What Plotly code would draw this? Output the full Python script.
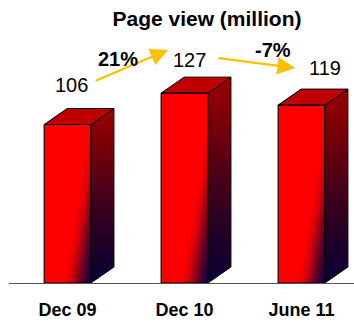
import plotly.graph_objects as go

# ---- data ----
categories = ["Dec 09", "Dec 10", "June 11"]
page_views = [106, 127, 119]
growth_labels = ["21%", "-7%"]

# ---- layout constants ----
W, H = 354, 328
M_L, M_R, M_T, M_B = 9, 0, 0, 45
X_RANGE = [-0.5, 2.449]
Y_RANGE = [0, 189.3]
PX_X = (W - M_L - M_R) / (X_RANGE[1] - X_RANGE[0])
PX_Y = (H - M_T - M_B) / (Y_RANGE[1] - Y_RANGE[0])

BAR_W = 0.4          # front face width (x units)
DEPTH_X = 0.197      # 3D depth, horizontal
DEPTH_Y = 10.7       # 3D depth, vertical
RED_UNTIL = 0.42
FRONT_SCALE = [[0, "#FF0000"], [RED_UNTIL, "#FF0000"], [0.55, "#DA000C"],
               [0.65, "#A80014"], [0.75, "#700024"], [0.85, "#400032"],
               [0.93, "#200040"], [1, "#100048"]]
SIDE_SCALE = [[0, "#0A0035"], [0.25, "#220026"], [0.55, "#500016"],
              [0.8, "#7C0008"], [1, "#9A0000"]]
TOP_COLOR = "#C00000"
EDGE = "#000000"
DIAG_K = 0.17        # slope of the diagonal shading on the front face
N_STRIPS = 56

fig = go.Figure()

xs = list(range(len(categories)))

# front faces
fig.add_trace(go.Bar(
    x=xs, y=page_views, width=BAR_W,
    marker=dict(color="#FF0000", line=dict(width=0)),
    hoverinfo="skip", showlegend=False,
))

for c, v in zip(xs, page_views):
    xl, xr = c - BAR_W / 2, c + BAR_W / 2
    w_px = BAR_W * PX_X
    # diagonal shading on the lower part of the front face
    h_max_px = min(v * PX_Y, (1 - RED_UNTIL) / DIAG_K * w_px)
    h_max = h_max_px / PX_Y
    step = h_max / N_STRIPS
    for i in range(N_STRIPS):
        y0 = i * step
        y1 = min(y0 + step * 1.6, v)
        hmid_px = (y0 + step / 2) * PX_Y
        o = DIAG_K * hmid_px / w_px
        fig.add_trace(go.Scatter(
            x=[xl, xr, xr, xl, xl], y=[y0, y0, y1, y1, y0],
            mode="lines", line=dict(width=0), fill="toself",
            fillgradient=dict(type="horizontal", colorscale=FRONT_SCALE,
                              start=xl + o * BAR_W, stop=xl + (1 + o) * BAR_W),
            hoverinfo="skip", showlegend=False,
        ))
    # side face
    fig.add_trace(go.Scatter(
        x=[xr, xr + DEPTH_X, xr + DEPTH_X, xr, xr],
        y=[0, DEPTH_Y, v + DEPTH_Y, v, 0],
        mode="lines", line=dict(color=EDGE, width=1), fill="toself",
        fillgradient=dict(type="vertical", colorscale=SIDE_SCALE,
                          start=0, stop=v + DEPTH_Y),
        hoverinfo="skip", showlegend=False,
    ))
    # top face
    fig.add_trace(go.Scatter(
        x=[xl, xr, xr + DEPTH_X, xl + DEPTH_X, xl],
        y=[v, v, v + DEPTH_Y, v + DEPTH_Y, v],
        mode="lines", line=dict(color=EDGE, width=1), fill="toself",
        fillcolor=TOP_COLOR, hoverinfo="skip", showlegend=False,
    ))
    # front outline
    fig.add_trace(go.Scatter(
        x=[xl, xr, xr, xl, xl], y=[0, 0, v, v, 0],
        mode="lines", line=dict(color=EDGE, width=1),
        hoverinfo="skip", showlegend=False,
    ))

FONT = "Liberation Sans, Arial, sans-serif"

# value labels (offsets from each bar's centre / top)
label_offsets = [(0.03, 26.4), (0.047, 22.2), (0.2, 24.8)]
annotations = []
for c, v, (ox, oy) in zip(xs, page_views, label_offsets):
    annotations.append(dict(
        x=c + ox, y=v + oy, text=str(v), showarrow=False,
        font=dict(family=FONT, size=20, color="#000000"),
        xanchor="center", yanchor="middle",
    ))

# growth arrows between consecutive bars
arrow_geom = [
    dict(tail=(0.227, 28.8), head=(-0.141, 28.9), text=(0.432, 43.8)),
    dict(tail=(0.278, 23.5), head=(-0.056, 24.8), text=(0.756, 28.9)),
]
for i, (g, lab) in enumerate(zip(arrow_geom, growth_labels)):
    c0, v0 = xs[i], page_views[i]
    c1, v1 = xs[i + 1], page_views[i + 1]
    annotations.append(dict(
        x=c1 + g["head"][0], y=v1 + g["head"][1],
        ax=c0 + g["tail"][0], ay=v0 + g["tail"][1],
        xref="x", yref="y", axref="x", ayref="y",
        text="", showarrow=True, arrowhead=2, arrowsize=1.6,
        arrowwidth=2.2, arrowcolor="#FFC000", standoff=0, startstandoff=0,
    ))
    annotations.append(dict(
        x=c0 + g["text"][0], y=v0 + g["text"][1], text=f"<b>{lab}</b>",
        showarrow=False, font=dict(family=FONT, size=20, color="#000000"),
        xanchor="center", yanchor="middle",
    ))

fig.update_layout(
    width=W, height=H,
    margin=dict(l=M_L, r=M_R, t=M_T, b=M_B),
    paper_bgcolor="white", plot_bgcolor="white",
    title=dict(text="<b>Page view (million)</b>", x=207 / W, xanchor="center",
               y=1 - 19 / H, yanchor="middle",
               font=dict(family=FONT, size=21, color="#000000")),
    xaxis=dict(range=X_RANGE, tickvals=xs, ticktext=categories,
               showgrid=False, zeroline=False, showline=True,
               linecolor="#555555", linewidth=1, ticks="",
               ticklabelstandoff=10,
               tickfont=dict(family=FONT, size=18, color="#000000", weight="bold")),
    yaxis=dict(range=Y_RANGE, visible=False, showgrid=False, zeroline=False),
    annotations=annotations,
    showlegend=False,
    bargap=0,
)

fig.write_html("out.html")
